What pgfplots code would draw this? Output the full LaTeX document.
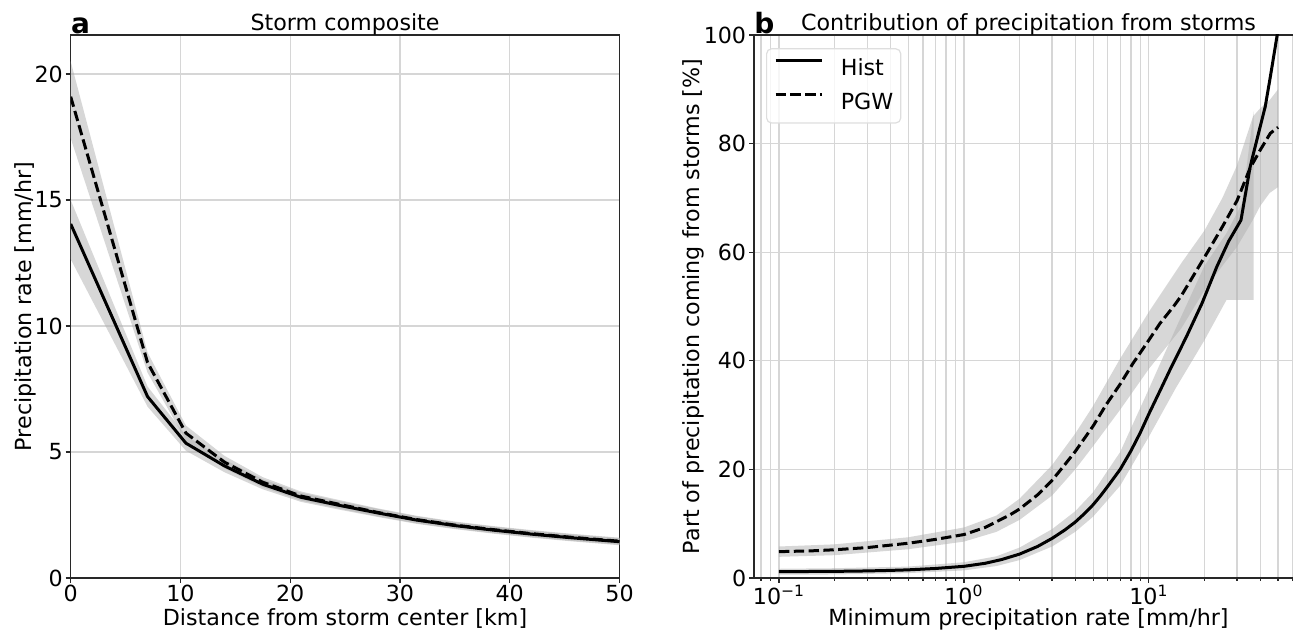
\documentclass[border=0pt]{standalone}
\usepackage{fontspec}
\setmainfont{DejaVu Sans}
\usepackage{pgfplots}
\pgfplotsset{compat=1.18}
\usepackage{pgfplotstable}
\usepgfplotslibrary{fillbetween}
\definecolor{gridgray}{RGB}{214,214,214}
\definecolor{bandgray}{RGB}{175,175,175}
\definecolor{spine}{RGB}{40,40,40}
\definecolor{legendgray}{RGB}{222,222,222}

\pgfplotstableread{
x hist hlo hhi pgw plo phi
0 14.05 12.65 15.0 19.1 17.45 20.5
7 7.2 6.8 7.6 8.55 8.15 8.95
10.5 5.35 5.05 5.65 5.75 5.45 6.05
14 4.45 4.2 4.7 4.6 4.35 4.85
17.5 3.72 3.52 3.92 3.8 3.6 4.0
21 3.2 3.02 3.38 3.25 3.07 3.43
24.5 2.88 2.71 3.05 2.92 2.75 3.09
28 2.58 2.42 2.74 2.6 2.44 2.76
31.5 2.3 2.15 2.45 2.32 2.17 2.47
35 2.08 1.94 2.22 2.1 1.96 2.24
38.5 1.9 1.76 2.04 1.92 1.78 2.06
42 1.74 1.6 1.88 1.76 1.62 1.9
45.5 1.6 1.46 1.74 1.62 1.48 1.76
50 1.44 1.3 1.58 1.46 1.32 1.6
}\leftdata

\pgfplotstableread{
x y
0.1 1.16
0.15 1.2
0.2 1.22
0.3 1.3
0.4 1.4
0.5 1.5
0.7 1.75
1.0 2.15
1.3 2.7
1.6 3.4
2.0 4.4
2.5 5.8
3.0 7.3
3.5 8.8
4.0 10.3
4.5 11.9
5.0 13.5
5.5 15.2
6.0 16.9
7.0 20.0
8.0 23.4
9.0 26.8
10 30.2
11.5 34.5
13 38.3
14 40.5
16 44.5
19.4 50.6
23.3 57.3
27 62
31.5 65.9
35.3 75.7
38.4 80.7
42.6 86.8
45.4 92.3
50 101
}\histR

\pgfplotstableread{
x y
0.1 4.85
0.15 5.0
0.2 5.2
0.3 5.6
0.5 6.4
0.7 7.1
1.0 8.0
1.3 9.3
1.77 11.6
2.0 12.7
2.5 15.3
3.0 18.0
3.5 20.8
4.0 23.3
5.0 28.0
5.9 32.0
7.0 35.7
8.2 39.5
10 43.8
11.5 46.9
13.6 50.0
15 52
20.6 59.8
25 64.7
30 69.5
35.3 75.5
40 78.8
45.4 81.9
50 83
}\pgwR

\pgfplotstableread{
x lo hi
0.1 0.6 1.7
0.2 0.65 1.8
0.5 0.9 2.1
1 1.4 2.9
1.5 2.2 4.0
2 3.3 5.6
3 5.8 9.0
4 8.5 12.3
5 11.3 15.8
7 17.0 23.2
10 26.0 34.8
14 35.0 46.0
20 43.8 57.5
26.3 51.2 63.5
31.9 51.2 69
36.9 51.2 86
}\histband

\pgfplotstableread{
x lo hi
0.1 3.9 5.8
0.2 4.2 6.2
0.5 5.3 7.5
1 6.7 9.3
1.5 8.5 11.5
2 10.7 14.6
3 15.2 20.8
4 20.0 26.6
5 24.3 31.7
7 31.0 40.4
10 38.5 49.0
15 46 58
20 53 64
25 57.5 70
30 61 76
36.6 66 85
40 68.5 86.5
45 70.9 88
50 72 90
}\pgwband

\pgfplotsset{
  myax/.style={
    scale only axis,
    anchor=south west,
    font=\fontsize{11.1}{13.3}\selectfont,
    /pgf/number format/assume math mode=true,
    tick label style={font=\fontsize{11.1}{13.3}\selectfont},
    label style={font=\fontsize{11.1}{13.3}\selectfont},
    axis line style={spine, line width=0.65pt},
    tick style={spine, line width=0.65pt},
    tick align=outside,
    tick pos=left,
    major tick length=2.5pt,
    minor tick length=1.5pt,
    grid style={gridgray, line width=0.65pt},
    minor grid style={gridgray, line width=0.65pt},
    yticklabel style={inner sep=0pt, xshift=-1.25pt},
    xticklabel style={inner sep=0pt, yshift=-1pt, anchor=north},
    every axis title/.style={at={(axis description cs:0.5,1)}, anchor=base, yshift=2.2pt, font=\fontsize{11.1}{13.3}\selectfont},
    every axis x label/.style={at={(axis description cs:0.5,0)}, anchor=base, yshift=-24pt},
    legend image code/.code={\draw[#1, line width=1.5pt] (0pt,4pt) -- (23.3pt,4pt);},
  },
  hist/.style={black, line width=1.5pt, line join=round},
  pgw/.style={black, line width=1.5pt, dash pattern=on 5.2pt off 2.2pt},
  band/.style={fill=bandgray, fill opacity=0.5, draw=none},
}

\begin{document}
\begin{tikzpicture}[font=\fontsize{11.1}{13.3}\selectfont]

\begin{axis}[myax, name=lax,
  at={(35.35pt,26pt)},
  width=274.4pt, height=271.5pt,
  xmin=0, xmax=50, ymin=0, ymax=21.55,
  xtick={0,10,20,30,40,50},
  ytick={0,5,10,15,20},
  xmajorgrids, ymajorgrids,
  xlabel={Distance from storm center [km]},
  ylabel={Precipitation rate [mm/hr]},
  every axis y label/.style={at={(axis description cs:-0.0723,0.5)}, rotate=90, anchor=base},
  title={Storm composite},
]
\addplot[draw=none, name path=lhl, forget plot] table[x=x, y=hlo] {\leftdata};
\addplot[draw=none, name path=lhh, forget plot] table[x=x, y=hhi] {\leftdata};
\addplot[band, forget plot] fill between[of=lhl and lhh];
\addplot[draw=none, name path=lpl, forget plot] table[x=x, y=plo] {\leftdata};
\addplot[draw=none, name path=lph, forget plot] table[x=x, y=phi] {\leftdata};
\addplot[band, forget plot] fill between[of=lpl and lph];
\addplot[hist] table[x=x, y=hist] {\leftdata};
\addplot[pgw] table[x=x, y=pgw] {\leftdata};
\end{axis}

\begin{axis}[myax, name=rax,
  at={(377pt,26pt)},
  width=274.5pt, height=271.5pt,
  xmode=log, log basis x=10,
  xmin=0.0733, xmax=68.2, ymin=0, ymax=100,
  xtick={0.1,1,10},
  xticklabels={10\textsuperscript{−1},10\textsuperscript{0},10\textsuperscript{1}},
  minor xtick={0.08,0.09,0.2,0.3,0.4,0.5,0.6,0.7,0.8,0.9,2,3,4,5,6,7,8,9,20,30,40,50,60},
  ytick={0,20,40,60,80,100},
  xmajorgrids, xminorgrids, ymajorgrids,
  xlabel={Minimum precipitation rate [mm/hr]},
  ylabel={Part of precipitation coming from storms [\%]},
  every axis y label/.style={at={(axis description cs:-0.1002,0.5)}, rotate=90, anchor=base},
  title={Contribution of precipitation from storms},
  legend cell align=left,
  legend style={at={(axis description cs:0,1)}, anchor=north west, xshift=6pt, yshift=-6.6pt,
    draw=legendgray, line width=0.6pt, rounded corners=2.5pt, fill=white, fill opacity=0.8, text opacity=1,
    inner xsep=3.7pt, inner ysep=4.2pt, row sep=5.3pt, column sep=8.6pt,
    nodes={inner sep=0pt, text height=9.2pt, text depth=2.5pt},
    font=\fontsize{11.1}{13.3}\selectfont},
]
\addplot[draw=none, name path=rhl, forget plot] table[x=x, y=lo] {\histband};
\addplot[draw=none, name path=rhh, forget plot] table[x=x, y=hi] {\histband};
\addplot[band, forget plot] fill between[of=rhl and rhh];
\addplot[draw=none, name path=rpl, forget plot] table[x=x, y=lo] {\pgwband};
\addplot[draw=none, name path=rph, forget plot] table[x=x, y=hi] {\pgwband};
\addplot[band, forget plot] fill between[of=rpl and rph];
\addplot[hist] table[x=x, y=y] {\histR};
\addlegendentry{Hist}
\addplot[pgw] table[x=x, y=y] {\pgwR};
\addlegendentry{PGW}
\end{axis}

\node[anchor=base west, inner sep=0pt, yshift=0.5pt, font=\fontsize{14}{16}\selectfont\bfseries] at (lax.north west) {a};
\node[anchor=base west, inner sep=0pt, yshift=0.5pt, font=\fontsize{14}{16}\selectfont\bfseries] at (rax.north west) {b};

\pgfresetboundingbox
\path[use as bounding box] (0,0) rectangle (646.5pt,315pt);
\end{tikzpicture}
\end{document}
